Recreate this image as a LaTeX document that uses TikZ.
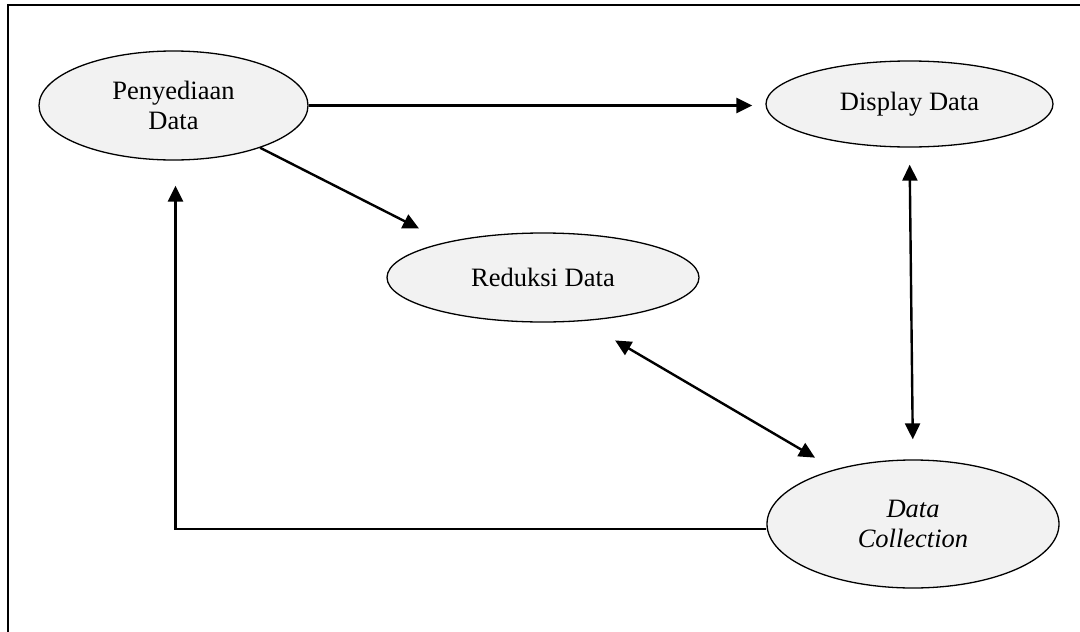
\documentclass[tikz,border=0pt]{standalone}
\usepackage{fontspec}
\setmainfont{Liberation Serif}
\usetikzlibrary{arrows.meta,shapes.geometric}
\definecolor{bubble}{HTML}{F2F2F2}
\definecolor{ink}{HTML}{000000}

\begin{document}
\begin{tikzpicture}[x=1pt,y=-1pt,
  proc/.style={ellipse,draw=ink,line width=1.3pt,fill=bubble,inner sep=0pt,align=center,font=\fontsize{26.5}{29.5}\selectfont},
  link/.style={line width=2.4pt,draw=ink,-{Triangle[length=16pt,width=15pt]}},
  twoway/.style={line width=2.4pt,draw=ink,{Triangle[length=16pt,width=15pt]}-{Triangle[length=16pt,width=15pt]}}]
  \useasboundingbox (0,0) rectangle (1080,632);
  \draw[line width=1.6pt,ink] (8,5) rectangle (1095,645);
  \node[proc,minimum width=269pt,minimum height=109pt] (pd) at (173.5,105.5) {Penyediaan\\Data};
  \node[proc,minimum width=287pt,minimum height=86pt] (ds) at (909.5,104) {Display Data};
  \node[proc,minimum width=312pt,minimum height=89pt] (rd) at (543,277.5) {Reduksi Data};
  \node[proc,minimum width=292pt,minimum height=128pt] (dc) at (913,524) {\itshape Data\\\itshape Collection};
  % connectors
  \draw[link,shorten >=13pt] (pd.east) -- (pd.east -| ds.west);
  \draw[link,shorten >=30pt] (pd.-26) -- (rd.160);
  \draw[twoway,shorten <=17pt,shorten >=20pt] (ds.south) -- (dc.north);
  \draw[twoway,shorten <=38pt,shorten >=23pt] (rd.-48) -- (dc.145);
  \draw[link,shorten >=25pt] ([yshift=-5pt]dc.west) -| ([xshift=2pt]pd.south);
\end{tikzpicture}
\end{document}
